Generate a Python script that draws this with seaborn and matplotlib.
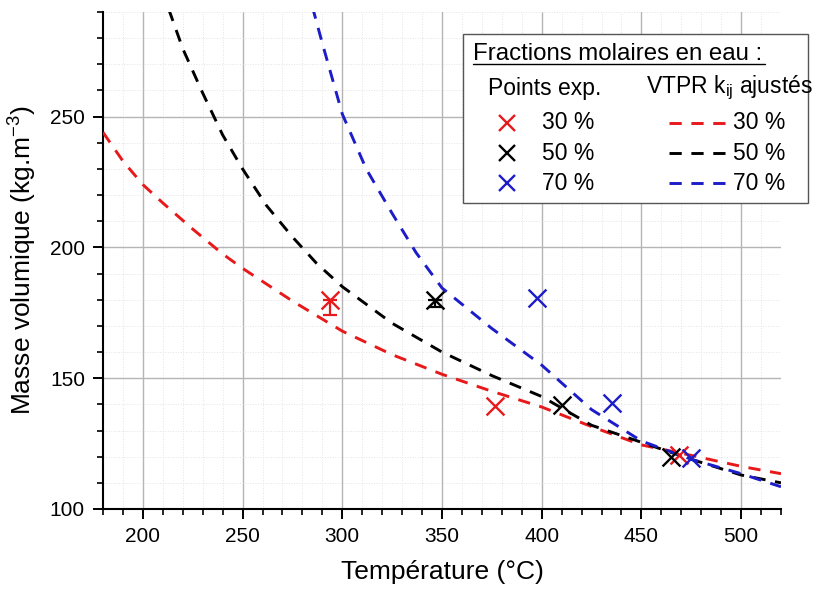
import matplotlib
matplotlib.use('Agg')
import matplotlib.pyplot as plt
from matplotlib.lines import Line2D
from matplotlib.patches import Rectangle
from matplotlib.ticker import MultipleLocator
import seaborn as sns
import pandas as pd

# model curves (VTPR, kij ajustés)
T_red = [180, 190, 200, 210, 225, 240, 250, 275, 300, 325, 350, 375, 400, 425, 450, 475, 500, 520]
rho_red = [244, 233, 224, 217, 207, 197.5, 192, 179.5, 168, 159, 151.5, 145, 139, 131.5, 124.5, 120.5, 116.3, 113.5]
T_black = [213, 220, 230, 240, 250, 262, 275, 287, 300, 325, 350, 375, 400, 425, 450, 475, 500, 520]
rho_black = [291, 276, 259, 243, 230, 216, 204, 194, 185, 171, 160, 151, 143, 132, 125.5, 119, 113, 110]
T_blue = [285, 290, 300, 312, 325, 337, 350, 375, 400, 425, 450, 475, 500, 520]
rho_blue = [292, 278, 251, 230, 213, 198, 184.5, 169, 155, 138, 126, 119, 113.5, 108.5]

# experimental points
T_exp_red = [293.8, 376.5, 469]
rho_exp_red = [179.9, 139.4, 120.6]
T_exp_black = [346.4, 410, 465]
rho_exp_black = [180, 139.8, 119.9]
T_exp_blue = [397.5, 435, 475]
rho_exp_blue = [180.7, 140.5, 119.5]
# lower error bars
err_T = [293.8, 346.4]
err_rho = [179.9, 180]
err_low = [5.8, 2.6]
err_colors = ['#e8191b', 'black']

fractions = ['30 %', '50 %', '70 %']
colors = ['#e8191b', 'black', '#1c1cc8']

sns.set_theme(style="white")
plt.rcParams['font.family'] = ['Liberation Sans', 'DejaVu Sans']
plt.rcParams['mathtext.fontset'] = 'custom'
plt.rcParams['mathtext.rm'] = 'Liberation Sans'
plt.rcParams['mathtext.it'] = 'Liberation Sans:italic'
plt.rcParams['text.color'] = 'black'
plt.rcParams['axes.labelcolor'] = 'black'
plt.rcParams['xtick.color'] = 'black'
plt.rcParams['ytick.color'] = 'black'

W, H = 822, 590
fig = plt.figure(figsize=(W / 100, H / 100), dpi=100)
fig.patch.set_facecolor('white')
ax = fig.add_axes([103 / W, 1 - 509 / H, (781 - 103) / W, (509 - 12) / H])

dash = (0, (4.2, 3.3))
curves = [(T_red, rho_red), (T_black, rho_black), (T_blue, rho_blue)]
for (tt, rr), c in zip(curves, colors):
    sns.lineplot(x=tt, y=rr, color=c, lw=2.1, linestyle=dash, sort=False,
                 estimator=None, ax=ax, zorder=3)

exps = [(T_exp_red, rho_exp_red), (T_exp_black, rho_exp_black), (T_exp_blue, rho_exp_blue)]
for (tt, rr), c in zip(exps, colors):
    sns.scatterplot(x=tt, y=rr, marker='x', s=165, color=c, linewidth=1.7, ax=ax, zorder=4)

for t, r, e, c in zip(err_T, err_rho, err_low, err_colors):
    ax.errorbar([t], [r], yerr=[[e], [0]], fmt='none', ecolor=c, elinewidth=1.6,
                capsize=5, capthick=1.6, zorder=4)

ax.set_xlim(180, 520)
ax.set_ylim(100, 290)
ax.xaxis.set_major_locator(MultipleLocator(50))
ax.xaxis.set_minor_locator(MultipleLocator(10))
ax.yaxis.set_major_locator(MultipleLocator(50))
ax.yaxis.set_minor_locator(MultipleLocator(10))
ax.grid(which='major', color='#b5b5b5', lw=1.0)
ax.grid(which='minor', color='#e4e4e4', lw=0.7, linestyle=':')
ax.set_axisbelow(True)
for s in ['top', 'right']:
    ax.spines[s].set_visible(False)
for s in ['left', 'bottom']:
    ax.spines[s].set_color('black')
    ax.spines[s].set_linewidth(1.5)
ax.tick_params(which='major', direction='out', length=7, width=1.4, colors='black',
               labelsize=15, pad=6)
ax.tick_params(which='minor', direction='out', length=4, width=1.2, colors='black')
ax.tick_params(axis='x', which='both', bottom=True)
ax.tick_params(axis='y', which='both', left=True)
ax.set_xlabel('Température (°C)', fontsize=19, labelpad=10)
ax.set_ylabel('Masse volumique (kg.m$^{-3}$)', fontsize=19, labelpad=8)


def px(x, y):
    return x / W, 1 - y / H


# legend drawn by hand (two columns with headers)
x0, y0 = px(463, 203)
x1, y1 = px(808, 34)
fig.add_artist(Rectangle((x0, y0), x1 - x0, y1 - y0, transform=fig.transFigure,
                         facecolor='white', edgecolor='#555555', lw=1.0, zorder=10))
fs = 16.5
fig.text(*px(473, 54), 'Fractions molaires en eau :', fontsize=17.3, va='center', ha='left', zorder=11)
fig.add_artist(Line2D([473 / W, 765 / W], [1 - 64 / H, 1 - 64 / H], transform=fig.transFigure,
                      color='black', lw=1.0, zorder=11))
fig.text(*px(488, 88), 'Points exp.', fontsize=fs, va='center', ha='left', zorder=11)
fig.text(*px(646, 88), 'VTPR k$_{\\mathrm{ij}}$ ajustés', fontsize=fs, va='center', ha='left', zorder=11)
row_y = [123, 153, 183]
for ry, c, lab in zip(row_y, colors, fractions):
    fig.add_artist(Line2D([507 / W], [1 - ry / H], marker='x', markersize=12, mew=1.7,
                          color=c, linestyle='none', transform=fig.transFigure, zorder=11))
    fig.text(*px(542, ry), lab, fontsize=fs, va='center', ha='left', zorder=11)
    fig.add_artist(Line2D([669 / W, 728 / W], [1 - ry / H, 1 - ry / H], color=c, lw=2.1,
                          linestyle=dash, transform=fig.transFigure, zorder=11))
    fig.text(*px(733, ry), lab, fontsize=fs, va='center', ha='left', zorder=11)

fig.savefig('out.png', dpi=100)
